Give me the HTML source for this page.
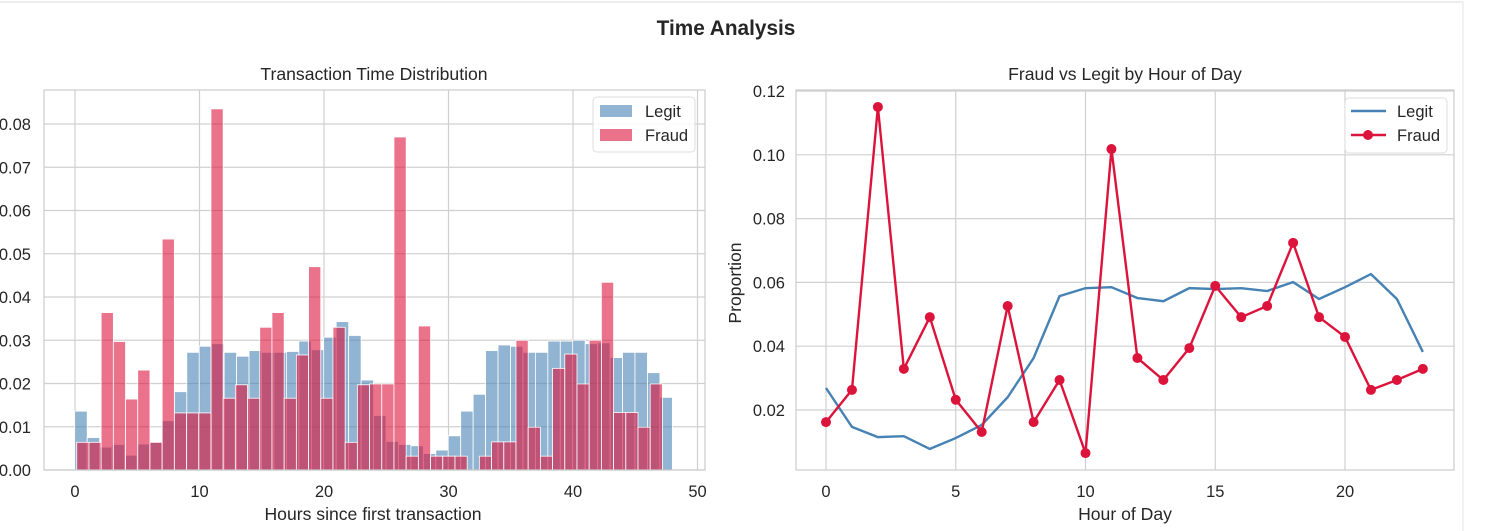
<!DOCTYPE html>
<html><head><meta charset="utf-8"><style>
body{margin:0;background:#fff;width:1505px;height:531px;overflow:hidden;font-family:"Liberation Sans","DejaVu Sans",sans-serif}
svg{position:absolute;left:0;top:0}
text{font-family:"Liberation Sans","DejaVu Sans",sans-serif;fill:#262626}
</style></head><body>
<svg id="c" width="1505" height="531">
<line x1="0" y1="2" x2="1463" y2="2" stroke="#ddd"/>
<line x1="1463" y1="2" x2="1463" y2="531" stroke="#e6e6e6"/>
<text x="726" y="35" text-anchor="middle" font-size="20.8" font-weight="bold">Time Analysis</text>
<text x="374" y="80" text-anchor="middle" font-size="17.6">Transaction Time Distribution</text>
<text x="373" y="520" text-anchor="middle" font-size="17.6">Hours since first transaction</text>
<text x="1125" y="80" text-anchor="middle" font-size="17.6">Fraud vs Legit by Hour of Day</text>
<text x="1125" y="520" text-anchor="middle" font-size="17.6">Hour of Day</text>
<text x="741" y="283" text-anchor="middle" font-size="17.6" transform="rotate(-90 741 283)">Proportion</text>
<g id="left"></g>
<g id="right"></g>
</svg>
<script>
const legitHist=[0.0136,0.0075,0.0053,0.0059,0.0034,0.006,0.0064,0.0114,0.0181,0.0272,0.0286,0.0292,0.0272,0.0263,0.0276,0.0272,0.0272,0.0274,0.0298,0.0278,0.0307,0.0343,0.0311,0.0208,0.0126,0.0066,0.0059,0.0056,0.0038,0.0046,0.0079,0.0136,0.0175,0.0276,0.0289,0.0286,0.0272,0.0272,0.0298,0.0298,0.03,0.0292,0.0294,0.026,0.0272,0.0272,0.0225,0.0168];
const fraudHist=[0.0064,0.0064,0.0364,0.0297,0.0164,0.0231,0.0064,0.0534,0.0132,0.0132,0.0132,0.0835,0.0166,0.0197,0.0166,0.033,0.0364,0.0166,0.0266,0.047,0.0166,0.033,0.0064,0.0197,0.0199,0.0199,0.077,0.0032,0.0333,0.0032,0.0032,0.0032,0,0.0032,0.0065,0.0065,0.030,0.0099,0.0032,0.0235,0.0268,0.0199,0.030,0.0434,0.0133,0.0133,0.0099,0.0199];
const legitStart=-0.02, legitBin=1.0, fraudStart=0.14, fraudBin=0.98;
const leftXTicks=[0,10,20,30,40,50];
const leftYTicks=[0,0.01,0.02,0.03,0.04,0.05,0.06,0.07,0.08];
const hours=[0,1,2,3,4,5,6,7,8,9,10,11,12,13,14,15,16,17,18,19,20,21,22,23];
const legitHour=[0.0269,0.0147,0.0115,0.0118,0.0078,0.0112,0.0153,0.024,0.0363,0.0557,0.0582,0.0585,0.0551,0.0541,0.0582,0.0579,0.0582,0.0573,0.0601,0.0548,0.0585,0.0626,0.0548,0.0382];
const fraudHour=[0.0162,0.0263,0.115,0.0329,0.0491,0.0232,0.0131,0.0526,0.0162,0.0294,0.0065,0.1018,0.0363,0.0294,0.0394,0.0589,0.0491,0.0526,0.0724,0.0491,0.0429,0.0263,0.0294,0.0329];
const rightXTicks=[0,5,10,15,20];
const rightYTicks=[0.02,0.04,0.06,0.08,0.10,0.12];
const NS='http://www.w3.org/2000/svg';
function mk(p,tag,a){const e=document.createElementNS(NS,tag);for(const k in a)e.setAttribute(k,a[k]);p.appendChild(e);return e;}
const FS=16.5;
// left
const L=document.getElementById('left');
const lx=v=>75+v*12.45, ly=v=>470-v*4325;
for(const t of leftXTicks){const g=mk(L,'line',{x1:lx(t),x2:lx(t),y1:90,y2:470,stroke:'#d0d0d0','stroke-width':1.2});


const tx=mk(L,'text',{x:lx(t),y:497,'text-anchor':'middle','font-size':FS});tx.textContent=t;

}
for(const t of leftYTicks){const g=mk(L,'line',{x1:44,x2:705,y1:ly(t),y2:ly(t),stroke:'#d0d0d0','stroke-width':1.2});


const tx=mk(L,'text',{x:31,y:ly(t)+6,'text-anchor':'end','font-size':FS});tx.textContent=t.toFixed(2);

}
legitHist.forEach((v,i)=>{const r=mk(L,'rect',{x:lx(legitStart+i*legitBin),y:ly(v),width:legitBin*12.45,height:v*4325,fill:'#4682b4','fill-opacity':0.6,stroke:'#fff','stroke-width':0.8});

});
fraudHist.forEach((v,i)=>{const r=mk(L,'rect',{x:lx(fraudStart+i*fraudBin),y:ly(v),width:fraudBin*12.45,height:v*4325,fill:'#dc143c','fill-opacity':0.6,stroke:'#fff','stroke-width':0.8});

});
mk(L,'rect',{x:44,y:90,width:661,height:380,fill:'none',stroke:'#cccccc','stroke-width':1.2});
const lg=mk(L,'g',{});


mk(lg,'rect',{x:593,y:97,width:102,height:55,rx:4,fill:'#fff','fill-opacity':0.85,stroke:'#ddd'});
mk(lg,'rect',{x:600,y:105,width:32,height:12,fill:'#4682b4','fill-opacity':0.6});
mk(lg,'rect',{x:600,y:129,width:32,height:12,fill:'#dc143c','fill-opacity':0.6});
let t1=mk(lg,'text',{x:645,y:117,'font-size':FS});t1.textContent='Legit';
let t2=mk(lg,'text',{x:645,y:141,'font-size':FS});t2.textContent='Fraud';
// right
const R=document.getElementById('right');
const rx=v=>826+v*25.95, ry=v=>473.8-v*3190;
for(const t of rightXTicks){const g=mk(R,'line',{x1:rx(t),x2:rx(t),y1:90,y2:470,stroke:'#d0d0d0','stroke-width':1.2});


const tx=mk(R,'text',{x:rx(t),y:497,'text-anchor':'middle','font-size':FS});tx.textContent=t;

}
for(const t of rightYTicks){const g=mk(R,'line',{x1:796,x2:1454,y1:ry(t),y2:ry(t),stroke:'#d0d0d0','stroke-width':1.2});


const tx=mk(R,'text',{x:785,y:ry(t)+6,'text-anchor':'end','font-size':FS});tx.textContent=t.toFixed(2);

}
mk(R,'rect',{x:796,y:90,width:658,height:380,fill:'none',stroke:'#cccccc','stroke-width':1.2});
const lp=mk(R,'polyline',{points:hours.map((h,i)=>rx(h)+','+ry(legitHour[i])).join(' '),fill:'none',stroke:'#4682b4','stroke-width':2.4});


const fp=mk(R,'polyline',{points:hours.map((h,i)=>rx(h)+','+ry(fraudHour[i])).join(' '),fill:'none',stroke:'#dc143c','stroke-width':2.4});


hours.forEach((h,i)=>{const c=mk(R,'circle',{cx:rx(h),cy:ry(fraudHour[i]),r:5,fill:'#dc143c'});

});
const rg=mk(R,'g',{});


mk(rg,'rect',{x:1345,y:98,width:102,height:55,rx:4,fill:'#fff','fill-opacity':0.85,stroke:'#ddd'});
mk(rg,'line',{x1:1351,x2:1386,y1:111,y2:111,stroke:'#4682b4','stroke-width':2.4});
mk(rg,'line',{x1:1351,x2:1386,y1:135,y2:135,stroke:'#dc143c','stroke-width':2.4});
mk(rg,'circle',{cx:1368,cy:135,r:5,fill:'#dc143c'});
let t3=mk(rg,'text',{x:1397,y:117,'font-size':FS});t3.textContent='Legit';
let t4=mk(rg,'text',{x:1397,y:141,'font-size':FS});t4.textContent='Fraud';
</script>
</body></html>
